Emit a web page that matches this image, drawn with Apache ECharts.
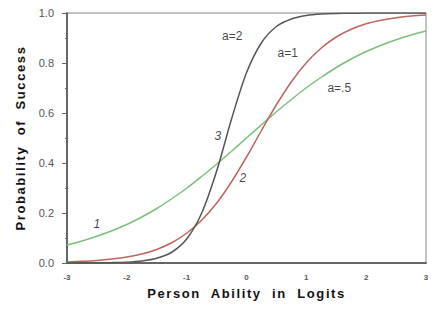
<!DOCTYPE html>
<html>
<head>
<meta charset="utf-8">
<script src="https://cdn.jsdelivr.net/npm/echarts@6/dist/echarts.min.js"></script>
<style>
html,body{margin:0;padding:0;background:#fff;}
#chart{width:439px;height:313px;}
</style>
</head>
<body>
<div id="chart"></div>
<script>
const abilities = [-3,-2.75,-2.5,-2.25,-2,-1.75,-1.5,-1.25,-1,-0.75,-0.5,-0.25,0,0.25,0.5,0.75,1,1.25,1.5,1.75,2,2.25,2.5,2.75,3];
const probA2  = [0.0001,0.0003,0.0006,0.0015,0.0035,0.0082,0.019,0.043,0.096,0.199,0.367,0.576,0.761,0.881,0.946,0.976,0.990,0.996,0.998,0.999,1.0,1.0,1.0,1.0,1.0];
const probA1  = [0.0045,0.0068,0.0104,0.016,0.024,0.036,0.054,0.081,0.119,0.171,0.239,0.325,0.424,0.530,0.633,0.725,0.801,0.860,0.904,0.935,0.957,0.971,0.981,0.988,0.992];
const probA05 = [0.072,0.088,0.107,0.129,0.154,0.184,0.218,0.257,0.299,0.346,0.395,0.447,0.50,0.553,0.605,0.654,0.701,0.743,0.782,0.816,0.846,0.871,0.893,0.912,0.928];
const xTicks = [-3,-2,-1,0,1,2,3];
const yTicks = [0,0.2,0.4,0.6,0.8,1.0];
const curveLabels = [
  {text:'a=2', x:-0.24, y:0.91, italic:false},
  {text:'a=1', x:0.69, y:0.84, italic:false},
  {text:'a=.5', x:1.55, y:0.70, italic:false},
  {text:'3', x:-0.48, y:0.51, italic:true},
  {text:'2', x:-0.06, y:0.34, italic:true},
  {text:'1', x:-2.5, y:0.155, italic:true}
];

function zip(xs, ys){ return xs.map((x,i)=>[x, ys[i]]); }

const chart = echarts.init(document.getElementById('chart'), null, {renderer:'svg'});
const lineBase = {type:'line', showSymbol:false, smooth:0.3, animation:false, silent:true};
chart.setOption({
  animation:false,
  backgroundColor:'#fff',
  grid:{left:67, right:13, top:13, bottom:50, show:true, borderColor:'#888', borderWidth:1},
  xAxis:{
    type:'value', min:-3, max:3, interval:1,
    name:'Person  Ability  in  Logits', nameLocation:'middle', nameGap:24,
    nameTextStyle:{fontFamily:'Liberation Sans, Arial', fontSize:13, fontWeight:'bold', color:'#111'},
    axisLine:{onZero:false, lineStyle:{color:'#666', width:2}},
    axisTick:{show:false},
    axisLabel:{fontFamily:'Liberation Sans, Arial', fontSize:8, fontWeight:'bold', color:'#555', margin:10,
      formatter:v=> xTicks.includes(v) ? String(v) : ''},
    splitLine:{show:false}
  },
  yAxis:{
    type:'value', min:0, max:1, interval:0.2,
    name:'Probability  of  Success', nameLocation:'middle', nameGap:40,
    nameTextStyle:{fontFamily:'Liberation Sans, Arial', fontSize:13, fontWeight:'bold', color:'#111'},
    axisLine:{show:true, onZero:false, lineStyle:{color:'#666', width:2}},
    axisTick:{show:true, length:5, lineStyle:{color:'#666'}},
    minorTick:{show:true, splitNumber:2, length:2, lineStyle:{color:'#666'}},
    axisLabel:{fontFamily:'Liberation Sans, Arial', fontSize:11, color:'#555', margin:13,
      formatter:v=>{ const t = yTicks.find(k=>Math.abs(k-v)<1e-6); return t===undefined ? '' : t.toFixed(1); }},
    splitLine:{show:false}
  },
  series:[
    Object.assign({}, lineBase, {name:'a=.5', data:zip(abilities, probA05), lineStyle:{color:'#7cbf7c', width:1.5}, z:2}),
    Object.assign({}, lineBase, {name:'a=1', data:zip(abilities, probA1), lineStyle:{color:'#c0645e', width:1.5}, z:3}),
    Object.assign({}, lineBase, {name:'a=2', data:zip(abilities, probA2), lineStyle:{color:'#555', width:1.5}, z:4}),
    {
      type:'scatter', symbolSize:0, silent:true, animation:false, z:10,
      data: curveLabels.map(l=>({value:[l.x, l.y], label:{show:true, position:'inside', formatter:l.text,
        fontFamily:'Liberation Sans, Arial', fontSize:12, fontStyle:l.italic?'italic':'normal', color:'#111'}}))
    }
  ]
});
// widen axis titles like the reference's letter-spaced typography
document.querySelectorAll('#chart text').forEach(t=>{
  const s = t.textContent || '';
  if (s.indexOf('Person') >= 0 || s.indexOf('Probability') >= 0) {
    t.style.letterSpacing = '1.6px';
  }
});
</script>
</body>
</html>
